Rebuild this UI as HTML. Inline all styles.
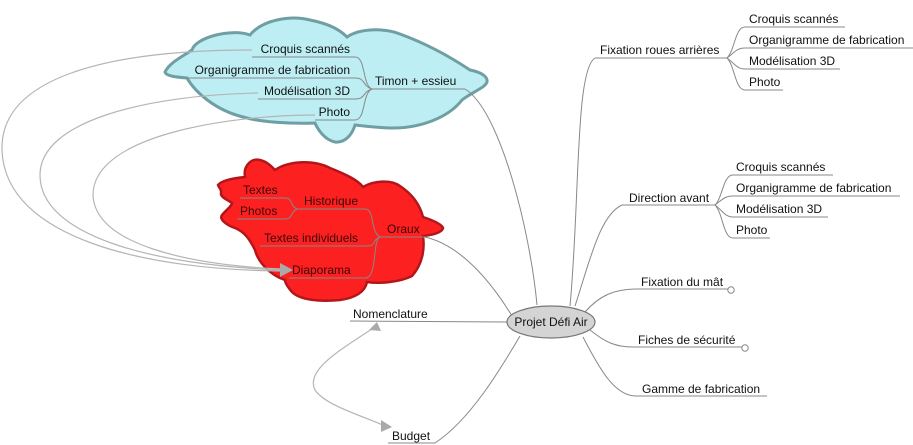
<!DOCTYPE html>
<html><head><meta charset="utf-8"><style>
html,body{margin:0;padding:0;background:#fff;}
svg{display:block;}
text{font-family:"Liberation Sans",Arial,sans-serif;font-size:12px;fill:#111;}
</style></head><body>
<svg width="913" height="445" viewBox="0 0 913 445" xmlns="http://www.w3.org/2000/svg">
<!-- blue cloud -->
<path d="M165,72 C170,62 185,55 192,50 C195,38 230,28 250,35 C262,20 290,15 310,20 C330,24 340,30 347,37 C360,28 385,28 400,34 C430,45 455,60 470,70 C480,72 488,76 487,82 C485,88 472,92 462,100 C448,118 420,128 393,128 C380,128 365,126 355,125 C352,135 345,143 335,142 C325,140 318,130 315,123 C290,124 260,122 243,117 C215,110 195,92 187,78 C175,77 166,76 165,72 Z" fill="#bdeef3" stroke="#6f9fa3" stroke-width="3"/>
<!-- red cloud -->
<path d="M218,185 C222,180 235,178 245,177 C243,165 252,158 260,160 C268,162 272,167 275,170 C290,160 315,160 330,168 C345,174 358,180 363,187 C375,180 392,180 400,186 C412,194 420,205 423,217 C432,220 442,224 443,228 C442,233 432,235 423,236 C425,250 422,265 412,276 C400,282 380,284 367,282 C365,292 355,298 340,300 C320,302 300,300 292,292 C286,285 285,282 285,280 C270,275 258,262 255,250 C250,240 245,232 235,228 C226,225 219,219 222,215 C226,210 232,206 232,203 C228,200 220,197 221,193 C222,190 219,188 218,185 Z" fill="#fd2020" stroke="#b3161a" stroke-width="2.5"/>

<g fill="none" stroke="#888" stroke-width="1">
<!-- central to right branches -->
<path d="M570,306 C580,200 575,70 595,58"/>
<path d="M575,306 C590,260 600,215 622,205"/>
<path d="M585,312 C600,295 615,289 637,289"/>
<path d="M590,330 C605,342 615,347 633,347"/>
<path d="M583,337 C600,370 615,396 636,396"/>
<line x1="595" y1="58" x2="727" y2="58"/>
<line x1="622" y1="205" x2="715" y2="205"/>
<line x1="637" y1="289" x2="728" y2="289"/>
<line x1="633" y1="347" x2="742" y2="347"/>
<line x1="636" y1="396" x2="767" y2="396"/>
<!-- fixation children -->
<path d="M727,58 C735,50 735,27 745,27 L845,27"/>
<path d="M727,58 C735,52 737,48 745,48 L913,48"/>
<path d="M727,58 C735,64 737,69 745,69 L840,69"/>
<path d="M727,58 C735,66 735,90 745,90 L783,90"/>
<!-- direction children -->
<path d="M715,205 C723,197 723,175 733,175 L833,175"/>
<path d="M715,205 C723,199 725,196 733,196 L900,196"/>
<path d="M715,205 C723,211 725,217 733,217 L828,217"/>
<path d="M715,205 C723,213 723,238 733,238 L770,238"/>
<!-- left side -->
<path d="M350,321 L507,322"/>
<path d="M388,443 L435,443 C470,420 500,370 520,336"/>
<path d="M465,89 C500,110 530,230 537,305"/>
<path d="M425,237 C460,245 490,280 512,316"/>
<!-- timon children -->
<line x1="372" y1="89" x2="465" y2="89"/>
<path d="M372,89 C362,85 366,57 355,57 L252,57"/>
<path d="M372,89 C362,86 366,78 355,78 L185,78"/>
<path d="M372,89 C362,92 366,99 355,99 L258,99"/>
<path d="M372,89 C362,93 366,120 355,120 L315,120"/>
<!-- oraux children -->
<line x1="380" y1="237" x2="425" y2="237"/>
<path d="M380,237 C370,232 375,209 365,209 L297,209"/>
<path d="M380,237 C372,240 376,246 368,246 L260,246"/>
<path d="M380,237 C372,240 378,278 365,278 L289,278"/>
<path d="M297,209 C290,206 293,198 285,198 L240,198"/>
<path d="M297,209 C290,212 293,219 285,219 L237,219"/>
</g>
<!-- long cross connectors -->
<g fill="none" stroke="#b5b5b5" stroke-width="1.2">
<path d="M252,50 C100,50 0,80 2,150 C5,240 150,270 282,271"/>
<path d="M258,93 C150,95 40,120 40,175 C40,235 150,265 282,270"/>
<path d="M315,115 C230,115 93,135 93,195 C95,245 190,265 282,269"/>
<path d="M375,327 C340,350 305,370 315,390 C325,405 360,415 385,426"/>
</g>
<g fill="#aaa">
<polygon points="280,263 293,270 280,277"/>
<polygon points="369,330 377,322 381,331"/>
<polygon points="381,420 392,427 381,432"/>
</g>
<circle cx="731" cy="290" r="3.2" fill="#fff" stroke="#888"/>
<circle cx="745" cy="348" r="3.2" fill="#fff" stroke="#888"/>
<ellipse cx="551" cy="322" rx="44" ry="16" fill="#d4d4d4" stroke="#777" stroke-width="1.2"/>
<text x="551" y="326" text-anchor="middle">Projet Défi Air</text>

<text x="600" y="54">Fixation roues arrières</text>
<text x="749" y="23">Croquis scannés</text>
<text x="749" y="44">Organigramme de fabrication</text>
<text x="749" y="65">Modélisation 3D</text>
<text x="749" y="86">Photo</text>
<text x="629" y="202">Direction avant</text>
<text x="736" y="171">Croquis scannés</text>
<text x="736" y="192">Organigramme de fabrication</text>
<text x="736" y="213">Modélisation 3D</text>
<text x="736" y="234">Photo</text>
<text x="641" y="286">Fixation du mât</text>
<text x="638" y="344">Fiches de sécurité</text>
<text x="642" y="393">Gamme de fabrication</text>
<text x="353" y="318">Nomenclature</text>
<text x="392" y="440">Budget</text>

<text x="375" y="85">Timon + essieu</text>
<text x="350" y="53" text-anchor="end">Croquis scannés</text>
<text x="350" y="74" text-anchor="end">Organigramme de fabrication</text>
<text x="350" y="95" text-anchor="end">Modélisation 3D</text>
<text x="350" y="116" text-anchor="end">Photo</text>

<g style="fill:#4a0000">
<text x="387" y="233" style="fill:#3a0505">Oraux</text>
<text x="304" y="205" style="fill:#3a0505">Historique</text>
<text x="243" y="194" style="fill:#3a0505">Textes</text>
<text x="240" y="215" style="fill:#3a0505">Photos</text>
<text x="264" y="242" style="fill:#3a0505">Textes individuels</text>
<text x="292" y="274" style="fill:#3a0505">Diaporama</text>
</g>
</svg>
</body></html>
